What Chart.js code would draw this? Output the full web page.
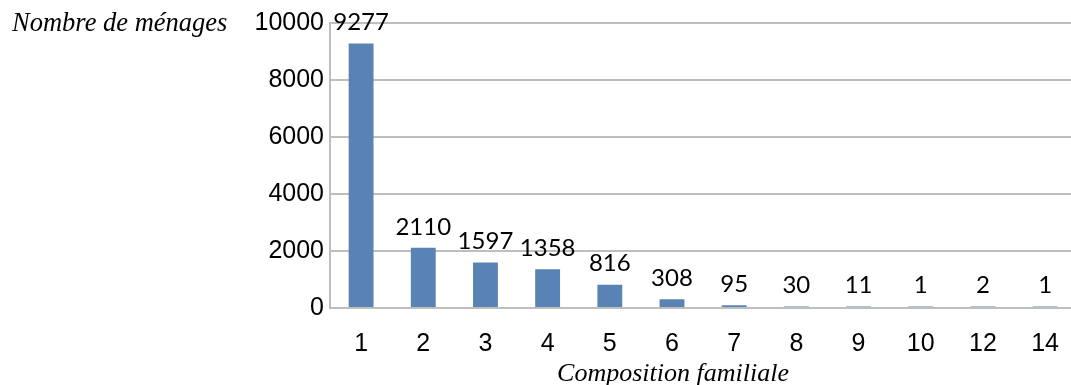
<!DOCTYPE html>
<html lang="fr">
<head>
<meta charset="utf-8">
<script src="https://cdn.jsdelivr.net/npm/chart.js@4/dist/chart.umd.min.js"></script>
<style>
  html, body { margin: 0; padding: 0; background: #fff; overflow: hidden; }
  #wrap { width: 1080px; height: 385px; }
</style>
</head>
<body>
<div id="wrap"><canvas id="c" width="1080" height="385"></canvas></div>
<script>
// Household counts by family size
const categories = ['1', '2', '3', '4', '5', '6', '7', '8', '9', '10', '12', '14'];
const households = [9277, 2110, 1597, 1358, 816, 308, 95, 30, 11, 1, 2, 1];
const yTicks = [0, 2000, 4000, 6000, 8000, 10000];

const yTitle = 'Nombre de ménages';
const xTitle = 'Composition familiale';

const barColor = '#5983B4';
const gridColor = '#BEBEBE';

// Value labels above each bar
const valueLabels = {
  id: 'valueLabels',
  afterDatasetsDraw(chart) {
    const ctx = chart.ctx;
    const meta = chart.getDatasetMeta(0);
    ctx.save();
    ctx.font = '24px Lato, "Open Sans", sans-serif';
    ctx.fillStyle = '#000';
    ctx.textAlign = 'center';
    ctx.textBaseline = 'middle';
    meta.data.forEach((bar, i) => {
      ctx.fillText(String(households[i]), bar.x, bar.y - 21);
    });
    ctx.restore();
  }
};

// Axis titles in italic serif
const axisTitles = {
  id: 'axisTitles',
  afterDraw(chart) {
    const ctx = chart.ctx;
    ctx.save();
    ctx.fillStyle = '#000';
    ctx.textBaseline = 'alphabetic';
    ctx.font = 'italic 26.5px "Liberation Serif", "DejaVu Serif", serif';
    ctx.textAlign = 'left';
    ctx.fillText(yTitle, 12, 31);
    ctx.font = 'italic 26px "Liberation Serif", "DejaVu Serif", serif';
    ctx.textAlign = 'center';
    ctx.fillText(xTitle, 673, 381);
    ctx.restore();
  }
};

new Chart(document.getElementById('c'), {
  type: 'bar',
  data: {
    labels: categories,
    datasets: [{
      data: households,
      backgroundColor: barColor,
      borderWidth: 0,
      barPercentage: 0.4,
      categoryPercentage: 1.0,
      minBarLength: 1.5
    }]
  },
  options: {
    responsive: false,
    devicePixelRatio: 1,
    animation: false,
    layout: { padding: { top: 23, right: 0, left: 0, bottom: 0 } },
    plugins: {
      legend: { display: false },
      tooltip: { enabled: false }
    },
    scales: {
      x: {
        grid: { display: false, drawTicks: false },
        border: { display: true, color: gridColor, width: 2 },
        ticks: {
          color: '#000',
          font: { family: '"Liberation Sans", Arial, sans-serif', size: 25 },
          padding: 21,
          maxRotation: 0,
          autoSkip: false
        },
        afterFit(scale) { scale.height = 77; }
      },
      y: {
        min: 0,
        max: 10000,
        afterBuildTicks(scale) { scale.ticks = yTicks.map(v => ({ value: v })); },
        grid: { color: gridColor, lineWidth: 2, drawTicks: false },
        border: { display: true, color: gridColor, width: 2 },
        ticks: {
          color: '#000',
          font: { family: '"Liberation Sans", Arial, sans-serif', size: 25 },
          padding: 6,
          callback: (v) => String(v)
        },
        afterFit(scale) { scale.width = 330; }
      }
    }
  },
  plugins: [valueLabels, axisTitles]
});
</script>
</body>
</html>
